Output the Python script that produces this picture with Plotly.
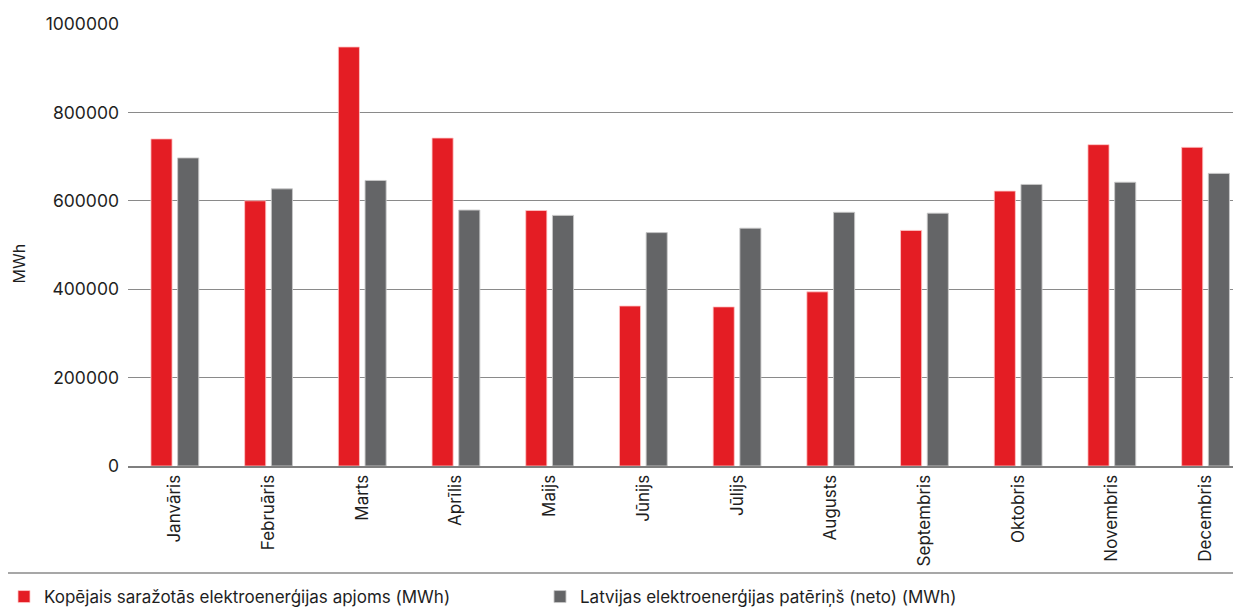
import plotly.graph_objects as go

months = ["Janvāris", "Februāris", "Marts", "Aprīlis", "Maijs", "Jūnijs",
          "Jūlijs", "Augusts", "Septembris", "Oktobris", "Novembris", "Decembris"]
production = [740000, 600000, 948000, 742000, 578000, 362000,
              360000, 394000, 533000, 622000, 727000, 721000]
consumption = [697000, 627000, 646000, 579000, 567000, 528000,
               538000, 574000, 572000, 637000, 642000, 662000]
name_prod = "Kopējais saražotās elektroenerģijas apjoms (MWh)"
name_cons = "Latvijas elektroenerģijas patēriņš (neto) (MWh)"
y_ticks = [0, 200000, 400000, 600000, 800000, 1000000]

RED = "#e41d24"
GRAY = "#646567"
FONT = "Inter, Lato, sans-serif"

OFF = 8  # page body margin
W, H = 1241 - OFF, 608 - OFF
PL, PT, PB = 128, 24, 466  # plot edges in page pixels
L, T = PL - OFF, PT - OFF
R = 0
B = H - (PB - OFF)
pw = W - L - R
ph = H - T - B

fig = go.Figure()
fig.add_trace(go.Bar(x=months, y=production, name=name_prod,
                     marker=dict(color=RED, line=dict(color="rgba(255,200,200,0.8)", width=1))))
fig.add_trace(go.Bar(x=months, y=consumption, name=name_cons,
                     marker=dict(color=GRAY, line=dict(color="rgba(200,200,200,0.9)", width=1))))

fig.update_layout(
    width=W, height=H,
    margin=dict(l=L, r=R, t=T, b=B, autoexpand=False),
    paper_bgcolor="white", plot_bgcolor="white",
    barmode="group", bargap=0.43, bargroupgap=0.21,
    font=dict(family=FONT, size=17, color="#1e1e1e"),
    showlegend=True,
    legend=dict(orientation="h", x=(4 - PL) / pw, xanchor="left",
                y=-(597 - PB) / ph, yanchor="middle",
                font=dict(size=17), entrywidth=491, entrywidthmode="pixels",
                itemwidth=30, tracegroupgap=0, bgcolor="rgba(0,0,0,0)"),
    xaxis=dict(range=[-0.5, -0.5 + pw / 93.7], tickangle=-90, showgrid=False,
               showline=True, linecolor="#7f7f7f", linewidth=2,
               ticks="", tickfont=dict(size=17)),
    yaxis=dict(range=[0, 1000000], tickvals=y_ticks, tickformat="d",
               showgrid=True, gridcolor="#8a8a8a", gridwidth=1.4,
               zeroline=False, showline=False, ticks="", ticklabelstandoff=8,
               tickfont=dict(size=17.5)),
    annotations=[dict(text="MWh", textangle=-90, xref="paper", yref="paper",
                      x=(18.5 - PL) / pw, y=(PB - 264) / ph, showarrow=False,
                      font=dict(size=16), xanchor="center", yanchor="middle")],
    shapes=[dict(type="line", xref="paper", yref="paper",
                 x0=-L / pw, x1=1, y0=-(573 - PB) / ph, y1=-(573 - PB) / ph,
                 line=dict(color="#8a8a8a", width=1.5))],
)

fig.write_html("out.html")
